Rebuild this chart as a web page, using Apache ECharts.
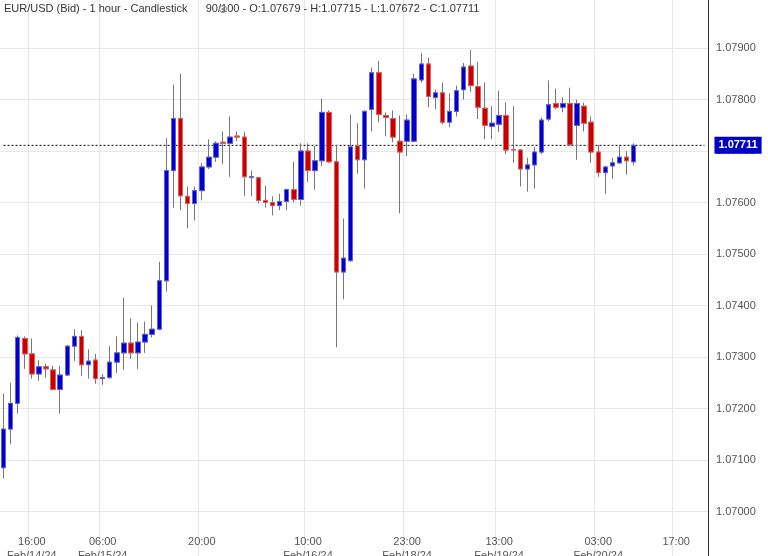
<!DOCTYPE html>
<html><head><meta charset="utf-8">
<script src="https://cdn.jsdelivr.net/npm/echarts@6/dist/echarts.min.js"></script>
<style>html,body{margin:0;padding:0;background:#fff;width:768px;height:556px;overflow:hidden;position:relative}#c{position:absolute;left:0;top:-9px;width:768px;height:600px}</style>
</head><body><div id="c"></div>
<script>
// [open, close, low, high]
const candles = [
[1.07085,1.07160,1.07064,1.07229],[1.07160,1.07210,1.07131,1.07250],[1.07210,1.07338,1.07190,1.07342],
[1.07336,1.07306,1.07277,1.07340],[1.07306,1.07267,1.07258,1.07336],[1.07267,1.07281,1.07254,1.07294],
[1.07281,1.07277,1.07260,1.07287],[1.07275,1.07237,1.07235,1.07283],[1.07237,1.07265,1.07190,1.07283],
[1.07265,1.07321,1.07263,1.07323],[1.07321,1.07340,1.07292,1.07354],[1.07340,1.07285,1.07263,1.07352],
[1.07285,1.07292,1.07258,1.07315],[1.07294,1.07258,1.07248,1.07306],[1.07258,1.07260,1.07246,1.07267],
[1.07260,1.07290,1.07258,1.07321],[1.07290,1.07308,1.07269,1.07340],[1.07308,1.07327,1.07275,1.07415],
[1.07327,1.07308,1.07296,1.07375],[1.07308,1.07329,1.07277,1.07367],[1.07329,1.07344,1.07308,1.07369],
[1.07344,1.07354,1.07338,1.07400],[1.07354,1.07448,1.07352,1.07485],[1.07448,1.07662,1.07427,1.07725],
[1.07662,1.07763,1.07590,1.07829],[1.07763,1.07613,1.07585,1.07850],[1.07612,1.07598,1.07550,1.07631],
[1.07598,1.07623,1.07565,1.07631],[1.07623,1.07669,1.07604,1.07677],[1.07669,1.07688,1.07665,1.07723],
[1.07688,1.07715,1.07679,1.07719],[1.07717,1.07715,1.07675,1.07738],[1.07715,1.07727,1.07650,1.07767],
[1.07729,1.07727,1.07719,1.07738],[1.07727,1.07650,1.07613,1.07737],[1.07649,1.07650,1.07612,1.07662],
[1.07648,1.07604,1.07598,1.07650],[1.07604,1.07600,1.07590,1.07633],[1.07600,1.07594,1.07575,1.07612],
[1.07594,1.07602,1.07585,1.07617],[1.07602,1.07625,1.07585,1.07627],[1.07625,1.07606,1.07600,1.07679],
[1.07606,1.07700,1.07594,1.07715],[1.07700,1.07662,1.07640,1.07715],[1.07662,1.07681,1.07625,1.07710],
[1.07681,1.07775,1.07671,1.07802],[1.07775,1.07679,1.07677,1.07779],[1.07679,1.07465,1.07319,1.07712],
[1.07465,1.07492,1.07412,1.07569],[1.07487,1.07708,1.07485,1.07771],[1.07710,1.07683,1.07656,1.07754],
[1.07683,1.07777,1.07627,1.07779],[1.07781,1.07852,1.07738,1.07862],[1.07852,1.07771,1.07756,1.07875],
[1.07769,1.07765,1.07729,1.07775],[1.07763,1.07727,1.07717,1.07779],[1.07719,1.07698,1.07579,1.07769],
[1.07719,1.07760,1.07690,1.07771],[1.07719,1.07840,1.07717,1.07850],[1.07838,1.07869,1.07833,1.07890],
[1.07869,1.07806,1.07785,1.07881],[1.07804,1.07813,1.07781,1.07819],[1.07813,1.07756,1.07752,1.07833],
[1.07756,1.07777,1.07746,1.07812],[1.07777,1.07817,1.07767,1.07827],[1.07819,1.07863,1.07800,1.07871],
[1.07865,1.07827,1.07815,1.07896],[1.07825,1.07785,1.07762,1.07873],[1.07783,1.07750,1.07723,1.07833],
[1.07748,1.07754,1.07723,1.07787],[1.07752,1.07769,1.07737,1.07817],[1.07769,1.07702,1.07694,1.07794],
[1.07703,1.07702,1.07677,1.07787],[1.07702,1.07665,1.07631,1.07704],[1.07665,1.07673,1.07621,1.07687],
[1.07673,1.07698,1.07627,1.07708],[1.07698,1.07760,1.07694,1.07765],[1.07762,1.07790,1.07758,1.07837],
[1.07792,1.07785,1.07781,1.07821],[1.07785,1.07792,1.07775,1.07804],[1.07792,1.07712,1.07710,1.07823],
[1.07750,1.07792,1.07683,1.07800],[1.07787,1.07754,1.07738,1.07794],[1.07756,1.07698,1.07677,1.07767],
[1.07698,1.07658,1.07650,1.07712],[1.07658,1.07669,1.07617,1.07671],[1.07671,1.07677,1.07646,1.07687],
[1.07677,1.07688,1.07675,1.07712],[1.07688,1.07681,1.07654,1.07700],[1.07679,1.07711,1.07672,1.07715]
];
const totalSlots = 100;
const timeLabels = ['16:00','06:00','20:00','10:00','23:00','13:00','03:00','17:00'];
const dateLabels = ['Feb/14/24','Feb/15/24','','Feb/16/24','Feb/18/24','Feb/19/24','Feb/20/24',''];
const labelSlots = [4,14,28,43,57,70,84,95];
const lastPrice = 1.07711;
const titleText = 'EUR/USD (Bid) - 1 hour - Candlestick      90/100 - O:1.07679 - H:1.07715 - L:1.07672 - C:1.07711';

const categories = [];
for (let i = 0; i < totalSlots; i++) {
  const k = labelSlots.indexOf(i);
  categories.push(k >= 0 ? timeLabels[k] + '|' + dateLabels[k] : 'x' + i);
}
const bodies = candles.map(c => [c[0], c[1], Math.min(c[0], c[1]), Math.max(c[0], c[1])]);
const priceLine = categories.map(() => lastPrice);
const isLabel = (i) => labelSlots.indexOf(i) >= 0;

const chart = echarts.init(document.getElementById('c'));
chart.setOption({
  animation: false,
  graphic: [
    {type:'text', left: 4, top: 12, z: 100, style:{text: titleText, fill:'#333', font:'11px Arial, Liberation Sans'}},
    {type:'circle', z: 100, shape:{cx:223, cy:18, r:3.5}, style:{fill:'none', stroke:'#888', lineWidth:1}},
    {type:'circle', z: 100, shape:{cx:223, cy:18, r:1.5}, style:{fill:'#888'}}
  ],
  grid: {left: 0, right: 60, top: 0, bottom: 28},
  xAxis: {
    type: 'category', data: categories, boundaryGap: true,
    axisLine: {show: false}, axisTick: {show: false},
    splitLine: {show: true, interval: (i) => isLabel(i), lineStyle: {color: '#e6e6e6'}},
    axisLabel: {
      interval: (i) => isLabel(i), margin: -28,
      color: '#555', fontSize: 11, fontFamily: 'Arial, Liberation Sans',
      formatter: (v) => { const p = v.split('|'); return p[0] + (p[1] ? '\n' + p[1] : ''); },
      lineHeight: 14
    }
  },
  yAxis: {
    type: 'value', position: 'right', min: 1.069, max: 1.080, interval: 0.001,
    axisLine: {show: true, lineStyle: {color: '#333'}}, axisTick: {show: false},
    splitLine: {lineStyle: {color: '#e8e8e8'}},
    axisLabel: {color: '#555', fontSize: 11, margin: 8, fontFamily: 'Arial, Liberation Sans',
      formatter: (v) => v.toFixed(5)}
  },
  series: [
    {type: 'line', data: priceLine, symbol: 'none', silent: true, z: 1,
      lineStyle: {color: '#000', type: [2, 2], width: 1},
      endLabel: {show: true, formatter: () => lastPrice.toFixed(5), distance: 10,
        color: '#fff', backgroundColor: '#0000c8', padding: [3, 4], fontSize: 11, fontWeight: 'bold'}},
    {type: 'candlestick', data: candles, barWidth: 5, z: 2,
      itemStyle: {color: '#777', color0: '#777', borderColor: '#777', borderColor0: '#777', borderWidth: 1}},
    {type: 'candlestick', data: bodies, barWidth: 5, z: 3,
      itemStyle: {color: '#0000c8', color0: '#c80000', borderColor: '#6060e0', borderColor0: '#e06060', borderWidth: 1}}
  ]
});
</script></body></html>
